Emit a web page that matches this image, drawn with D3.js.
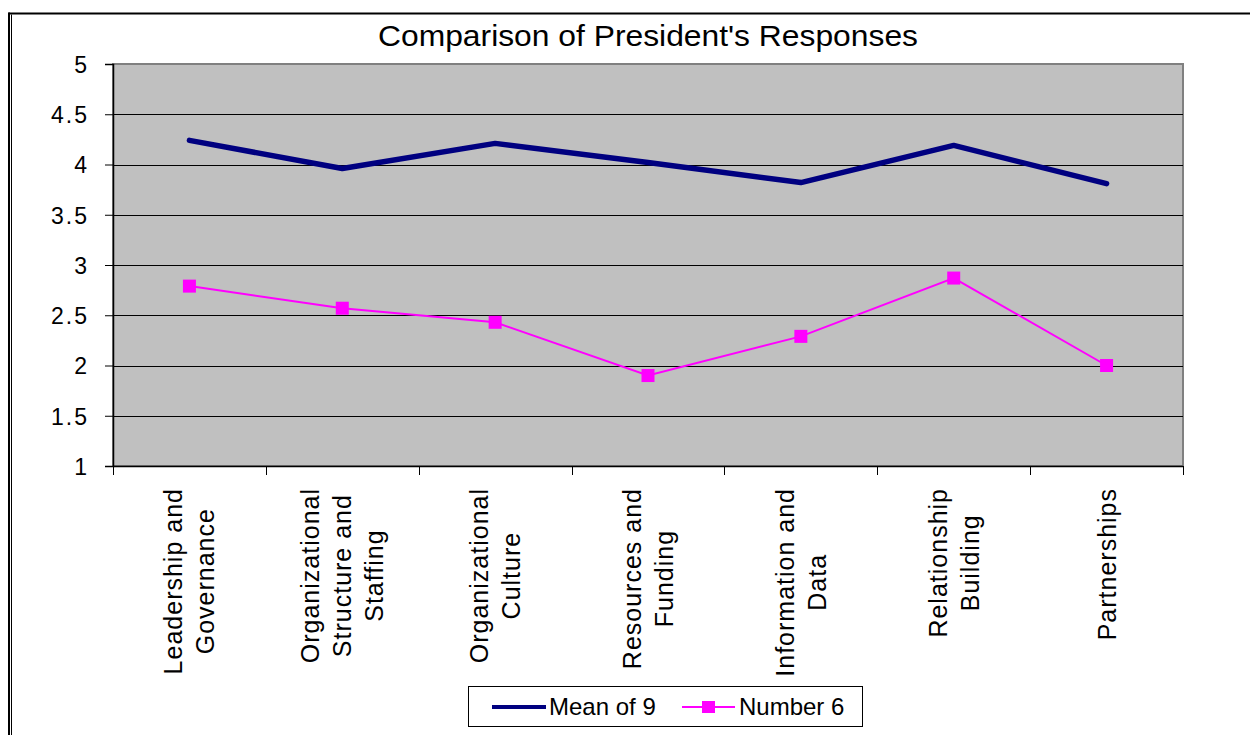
<!DOCTYPE html>
<html>
<head>
<meta charset="utf-8">
<script src="https://cdn.jsdelivr.net/npm/d3@7"></script>
<style>
  html, body { margin: 0; padding: 0; background: #fff; }
  svg { display: block; }
  text { font-family: "Liberation Sans", Arial, sans-serif; fill: #000; }
</style>
</head>
<body>
<svg id="chart" width="1250" height="735"></svg>
<script>
// Survey areas and scores
const categories = [
  "Leadership and Governance",
  "Organizational Structure and Staffing",
  "Organizational Culture",
  "Resources and Funding",
  "Information and Data",
  "Relationship Building",
  "Partnerships"
];
// wrapped label lines for each category
const categoryLines = [
  ["Leadership and", "Governance"],
  ["Organizational", "Structure and", "Staffing"],
  ["Organizational", "Culture"],
  ["Resources and", "Funding"],
  ["Information and", "Data"],
  ["Relationship", "Building"],
  ["Partnerships"]
];
const meanOf9 = [4.24, 3.96, 4.21, 4.02, 3.82, 4.19, 3.81];
const number6 = [2.79, 2.57, 2.43, 1.90, 2.29, 2.87, 2.00];
const yTicks = [1, 1.5, 2, 2.5, 3, 3.5, 4, 4.5, 5];
const seriesNames = ["Mean of 9", "Number 6"];
const titleText = "Comparison of President's Responses";

const svg = d3.select("#chart");
const plotLeft = 113, plotRight = 1183, plotTop = 64, plotBottom = 466;

const x = d3.scaleBand().domain(categories).range([plotLeft, plotRight]).padding(0);
const y = d3.scaleLinear().domain([1, 5]).range([plotBottom, plotTop]);
const cx = c => x(c) + x.bandwidth() / 2;

// outer frame: top rule and double left rule
svg.append("line").attr("x1", 8.5).attr("x2", 1250).attr("y1", 13.5).attr("y2", 13.5)
  .attr("stroke", "#000").attr("stroke-width", 2);
svg.append("line").attr("x1", 9).attr("x2", 9).attr("y1", 12.5).attr("y2", 735)
  .attr("stroke", "#000").attr("stroke-width", 2);
svg.append("line").attr("x1", 11.5).attr("x2", 11.5).attr("y1", 14.5).attr("y2", 735)
  .attr("stroke", "#000").attr("stroke-width", 1);

// title
svg.append("text")
  .attr("x", 648).attr("y", 46)
  .attr("text-anchor", "middle")
  .attr("font-size", 29)
  .attr("textLength", 540).attr("lengthAdjust", "spacingAndGlyphs")
  .text(titleText);

// plot area
svg.append("rect")
  .attr("x", plotLeft).attr("y", plotTop)
  .attr("width", plotRight - plotLeft).attr("height", plotBottom - plotTop)
  .attr("fill", "#c0c0c0").attr("stroke", "#808080").attr("stroke-width", 2);

// horizontal gridlines
svg.append("g").selectAll("line")
  .data(yTicks.filter(v => v > 1 && v < 5))
  .join("line")
  .attr("x1", plotLeft).attr("x2", plotRight)
  .attr("y1", d => Math.round(y(d)) + 0.5).attr("y2", d => Math.round(y(d)) + 0.5)
  .attr("stroke", "#000").attr("stroke-width", 1);

// y axis
const yAxis = svg.append("g")
  .attr("transform", `translate(${plotLeft},0)`)
  .call(d3.axisLeft(y).tickValues(yTicks).tickSize(8).tickPadding(16)
    .tickFormat(d => String(d)));
yAxis.select(".domain").attr("stroke", "#000").attr("stroke-width", 1.5);
yAxis.selectAll(".tick line").attr("stroke", "#000").attr("stroke-width", 1);
yAxis.selectAll(".tick text")
  .attr("font-family", "Liberation Sans, Arial, sans-serif")
  .attr("font-size", 23)
  .attr("letter-spacing", 2)
  .attr("dy", "0.36em")
  .attr("fill", "#000");

// x axis with ticks at band edges
const xAxis = svg.append("g")
  .attr("transform", `translate(0,${plotBottom})`);
xAxis.append("line").attr("x1", plotLeft).attr("x2", plotRight).attr("y1", 0.5).attr("y2", 0.5)
  .attr("stroke", "#000").attr("stroke-width", 1.5);
const edges = categories.map(c => x(c)).concat([x(categories[categories.length - 1]) + x.bandwidth()]);
xAxis.selectAll("line.tk").data(edges).join("line").attr("class", "tk")
  .attr("x1", d => Math.round(d) + 0.5).attr("x2", d => Math.round(d) + 0.5)
  .attr("y1", 0).attr("y2", 9)
  .attr("stroke", "#000").attr("stroke-width", 1);

// rotated category labels, each block centred under its band, top edge aligned
const labelTop = 488, lineGap = 32, labelSize = 25;
categories.forEach((c, i) => {
  const lines = categoryLines[i];
  const g = svg.append("g");
  const texts = lines.map((t, j) => {
    const bx = cx(c) + 9 + (j - (lines.length - 1) / 2) * lineGap;
    return g.append("text")
      .attr("font-size", labelSize)
      .attr("letter-spacing", 1)
      .attr("text-anchor", "middle")
      .attr("data-x", bx)
      .text(t);
  });
  const maxW = d3.max(texts, t => t.node().getComputedTextLength());
  const midY = labelTop + maxW / 2;
  texts.forEach(t => {
    const bx = +t.attr("data-x");
    t.attr("transform", `translate(${bx},${midY}) rotate(-90)`);
  });
});

// series lines
const line = d3.line().x((d, i) => cx(categories[i])).y(d => y(d));
svg.append("path").datum(meanOf9)
  .attr("d", line).attr("fill", "none")
  .attr("stroke", "#000080").attr("stroke-width", 5.5)
  .attr("stroke-linejoin", "round").attr("stroke-linecap", "round");
svg.append("path").datum(number6)
  .attr("d", line).attr("fill", "none")
  .attr("stroke", "#ff00ff").attr("stroke-width", 2);
const ms = 13;
svg.append("g").selectAll("rect").data(number6).join("rect")
  .attr("x", (d, i) => cx(categories[i]) - ms / 2)
  .attr("y", d => y(d) - ms / 2)
  .attr("width", ms).attr("height", ms)
  .attr("fill", "#ff00ff");

// legend
const lg = svg.append("g");
lg.append("rect").attr("x", 468.5).attr("y", 686.5).attr("width", 394).attr("height", 40)
  .attr("fill", "#fff").attr("stroke", "#000").attr("stroke-width", 1);
lg.append("line").attr("x1", 492).attr("x2", 546).attr("y1", 707).attr("y2", 707)
  .attr("stroke", "#000080").attr("stroke-width", 4);
lg.append("text").attr("x", 549).attr("y", 715).attr("font-size", 24).text(seriesNames[0]);
lg.append("line").attr("x1", 682).attr("x2", 735).attr("y1", 707).attr("y2", 707)
  .attr("stroke", "#ff00ff").attr("stroke-width", 2);
lg.append("rect").attr("x", 702).attr("y", 701).attr("width", 13).attr("height", 12)
  .attr("fill", "#ff00ff");
lg.append("text").attr("x", 739).attr("y", 715).attr("font-size", 24).text(seriesNames[1]);
</script>
</body>
</html>
